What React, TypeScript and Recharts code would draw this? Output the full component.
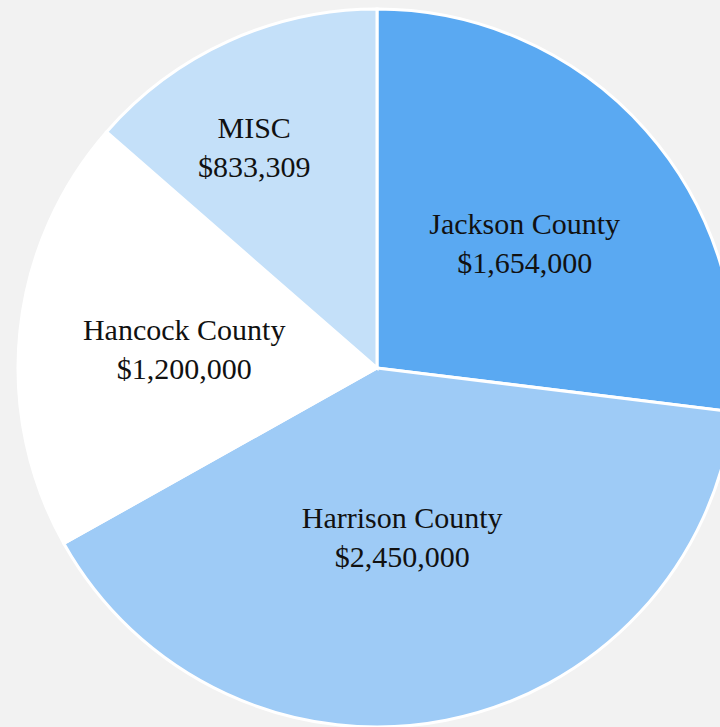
import React from "react";
import { PieChart, Pie, Cell } from "recharts";

const categories = ["Jackson County", "Harrison County", "Hancock County", "MISC"];
const amounts = [1654000, 2450000, 1200000, 833309];
const amountLabels = ["$1,654,000", "$2,450,000", "$1,200,000", "$833,309"];

const colors = ["#5aa9f2", "#9ecbf6", "#ffffff", "#c4e0f9"];
const labelRadiusRatio = [0.541, 0.473, 0.54, 0.707];
const labelAngleShift = [-1, -2.6, 0, 4.5];

const data = categories.map((name, i) => ({ name, value: amounts[i], label: amountLabels[i] }));

const RAD = Math.PI / 180;

const renderLabel = (props: any) => {
  const { cx, cy, midAngle, outerRadius, index } = props;
  const r = outerRadius * labelRadiusRatio[index];
  const a = midAngle + labelAngleShift[index];
  const x = cx + r * Math.cos(-a * RAD);
  const y = cy + r * Math.sin(-a * RAD);
  return (
    <text
      x={x}
      y={y}
      textAnchor="middle"
      fill="#111111"
      fontFamily="'Liberation Serif', 'DejaVu Serif', serif"
      fontSize={30}
    >
      <tspan x={x} dy={-8}>{categories[index]}</tspan>
      <tspan x={x} dy={39}>{amountLabels[index]}</tspan>
    </text>
  );
};

export default function App() {
  return (
    <div style={{ position: "absolute", left: 0, top: 0, width: 720, height: 727, background: "#f2f2f2", overflow: "hidden" }}>
      <PieChart width={720} height={727} margin={{ top: 0, right: 0, bottom: 0, left: 0 }}>
        <Pie
          data={data}
          dataKey="value"
          nameKey="name"
          cx={377}
          cy={368}
          outerRadius={359}
          startAngle={90}
          endAngle={-270}
          stroke="#ffffff"
          strokeWidth={3}
          labelLine={false}
          label={renderLabel}
          isAnimationActive={false}
        >
          {data.map((d, i) => (
            <Cell key={d.name} fill={colors[i]} />
          ))}
        </Pie>
      </PieChart>
    </div>
  );
}
